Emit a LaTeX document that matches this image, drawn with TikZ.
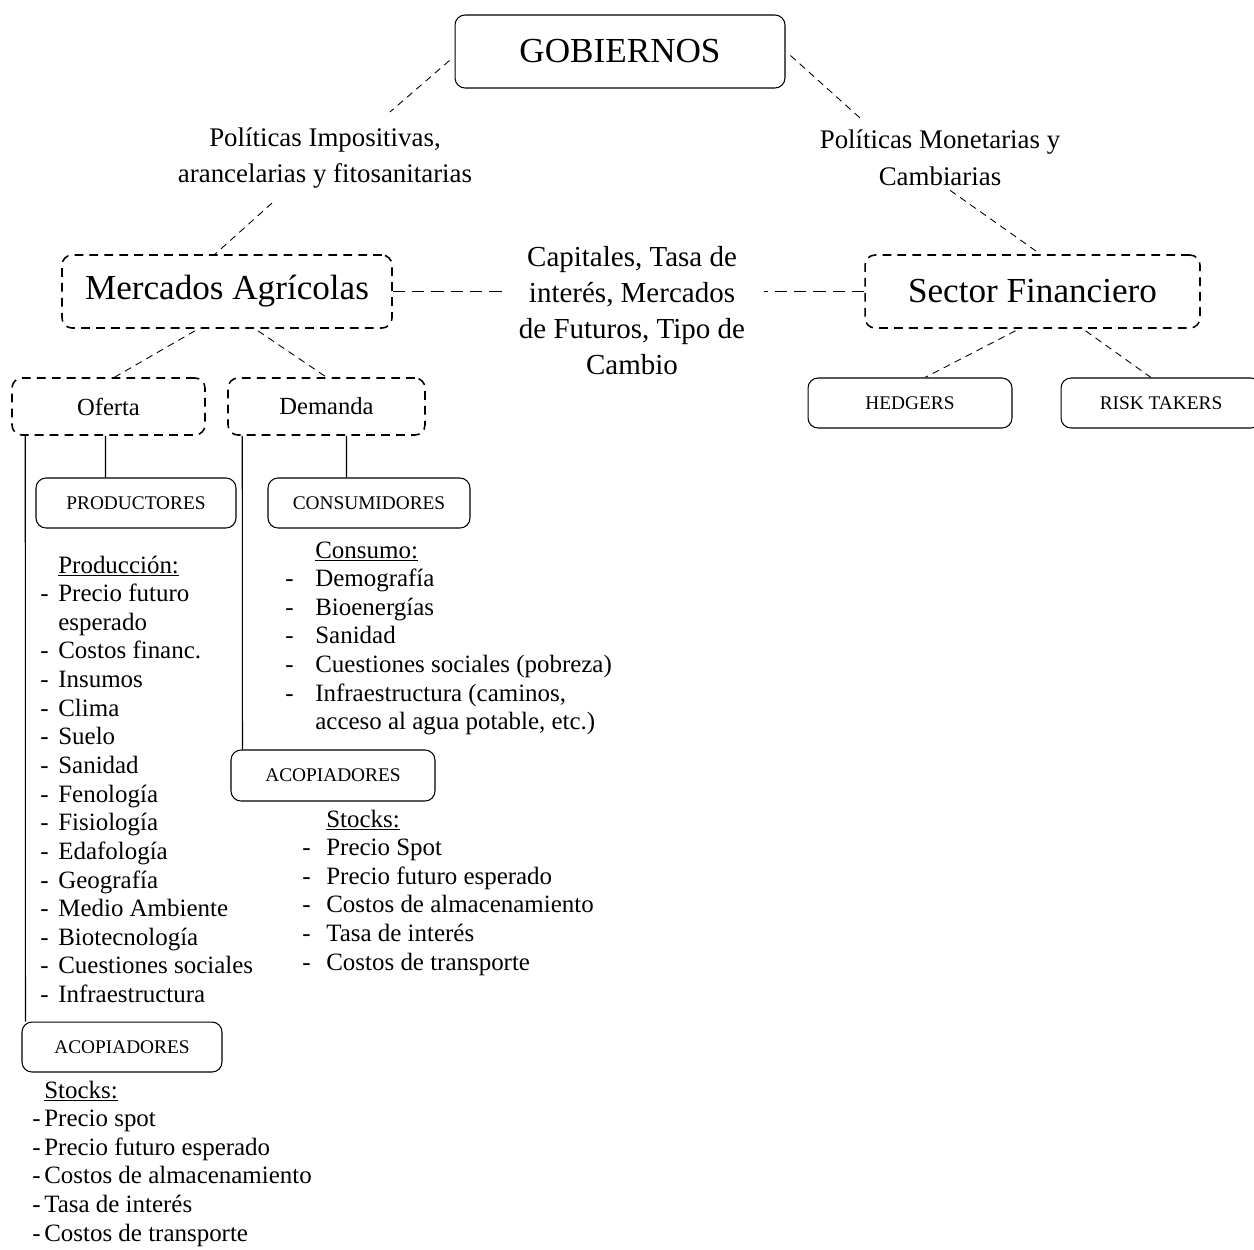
\documentclass[tikz,border=0pt]{standalone}
\usepackage{fontspec}
\setmainfont{Liberation Serif}
\usetikzlibrary{calc}
\begin{document}
\begin{tikzpicture}[x=0.02cm,y=-0.02cm,
    caja/.style={draw,line width=0.6pt,rounded corners=0.2cm,inner sep=0pt,font=\fontsize{11}{13}\selectfont},
    cajapunt/.style={draw,line width=0.9pt,dash pattern=on 5pt off 3.5pt,rounded corners=0.2cm,inner sep=0pt},
    enlace/.style={line width=0.5pt,dash pattern=on 4pt off 3pt},
    enlacelargo/.style={line width=0.6pt,dash pattern=on 7pt off 4pt},
    grande/.style={font=\fontsize{20}{24}\selectfont},
    medio/.style={font=\fontsize{14}{17}\selectfont},
    texto/.style={inner sep=0pt,align=center,font=\fontsize{15.3}{21}\selectfont},
    lista/.style={inner sep=0pt,anchor=base west,font=\fontsize{14.2}{16.3}\selectfont}]
  \useasboundingbox (0,0) rectangle (1254,1249);
  \node[caja,grande,minimum width=6.6cm,minimum height=1.46cm] (gob) at (620,51.5) {GOBIERNOS};
  \node[texto] (polimp) at (325,158) {Políticas Impositivas,\\arancelarias y fitosanitarias};
  \node[texto] (polmon) at (940,158) {Políticas Monetarias y\\Cambiarias};
  \node[cajapunt,grande,minimum width=6.6cm,minimum height=1.46cm] (merc) at (227,291.5) {Mercados Agrícolas};
  \node[cajapunt,grande,minimum width=6.7cm,minimum height=1.46cm] (sector) at (1032.5,291.5) {Sector Financiero};
  \node[texto,font=\fontsize{16.5}{20.5}\selectfont] (capit) at (632,311) {Capitales, Tasa de\\interés, Mercados\\de Futuros, Tipo de\\Cambio};
  \node[cajapunt,medio,minimum width=3.86cm,minimum height=1.14cm] (oferta) at (108.5,406.5) {Oferta};
  \node[cajapunt,medio,minimum width=3.94cm,minimum height=1.14cm] (dem) at (326.5,406.5) {Demanda};
  \node[caja,minimum width=4.0cm,minimum height=1.0cm] (prod) at (136,503) {PRODUCTORES};
  \node[caja,minimum width=4.04cm,minimum height=1.0cm] (cons) at (369,503) {CONSUMIDORES};
  \node[caja,minimum width=4.08cm,minimum height=1.0cm] (hedg) at (910,403) {HEDGERS};
  \node[caja,minimum width=4.0cm,minimum height=1.0cm] (risk) at (1161,403) {RISK TAKERS};
  \node[caja,minimum width=4.08cm,minimum height=1.02cm] (acop2) at (333,775.5) {ACOPIADORES};
  \node[caja,minimum width=4.0cm,minimum height=1.0cm] (acop1) at (122,1047) {ACOPIADORES};
  \node[lista] (prodlist) at (40,573) {\begin{tabular}[t]{@{}p{0.36cm}@{}l@{}}
    & \underline{Producción:}\\
    - & Precio futuro\\
    & esperado\\
    - & Costos financ.\\
    - & Insumos\\
    - & Clima\\
    - & Suelo\\
    - & Sanidad\\
    - & Fenología\\
    - & Fisiología\\
    - & Edafología\\
    - & Geografía\\
    - & Medio Ambiente\\
    - & Biotecnología\\
    - & Cuestiones sociales\\
    - & Infraestructura
  \end{tabular}};
  \node[lista] (conslist) at (285,558) {\begin{tabular}[t]{@{}p{0.6cm}@{}l@{}}
    & \underline{Consumo:}\\
    - & Demografía\\
    - & Bioenergías\\
    - & Sanidad\\
    - & Cuestiones sociales (pobreza)\\
    - & Infraestructura (caminos,\\
    & acceso al agua potable, etc.)
  \end{tabular}};
  \node[lista] (stock2) at (302,827) {\begin{tabular}[t]{@{}p{0.48cm}@{}l@{}}
    & \underline{Stocks:}\\
    - & Precio Spot\\
    - & Precio futuro esperado\\
    - & Costos de almacenamiento\\
    - & Tasa de interés\\
    - & Costos de transporte
  \end{tabular}};
  \node[lista] (stock1) at (32,1098) {\begin{tabular}[t]{@{}p{0.24cm}@{}l@{}}
    & \underline{Stocks:}\\
    - & Precio spot\\
    - & Precio futuro esperado\\
    - & Costos de almacenamiento\\
    - & Tasa de interés\\
    - & Costos de transporte
  \end{tabular}};
  \draw[enlace] ($(gob.west)+(-5,9)$) -- ($(polimp.north)+(65,-15)$);
  \draw[enlace] ($(polimp.south)+(-53,14)$) -- ($(merc.north)+(-12,0)$);
  \draw[enlace] ($(gob.east)+(5,4)$) -- ($(polmon.north)+(-78,-10)$);
  \draw[enlace] ($(polmon.south)+(10,4)$) -- ($(sector.north)+(8,0)$);
  \draw[enlacelargo] (merc.east) -- ($(merc.east)+(112,0)$);
  \draw[enlacelargo] (sector.west) -- ($(sector.west)+(-100,0)$);
  \draw[enlace] ($(merc.south)+(-32,2)$) -- ($(oferta.north)+(6,0)$);
  \draw[enlace] ($(merc.south)+(31,2)$) -- (dem.north);
  \draw[enlace] ($(sector.south)+(-17,2)$) -- ($(hedg.north)+(15,0)$);
  \draw[enlace] ($(sector.south)+(53,2)$) -- ($(risk.north)+(-10,0)$);
  \draw[line width=0.6pt] ($(oferta.south)+(-3,0)$) -- ($(prod.north)+(-30.5,0)$);
  \draw[line width=0.6pt] ($(dem.south)+(20,0)$) -- ($(cons.north)+(-22.5,0)$);
  \draw[line width=0.6pt] ($(oferta.south west)+(14,0)$) -- ($(acop1.north west)+(4,0)$);
  \draw[line width=0.6pt] ($(dem.south west)+(15,0)$) -- ($(acop2.north west)+(12,0)$);
\end{tikzpicture}
\end{document}
